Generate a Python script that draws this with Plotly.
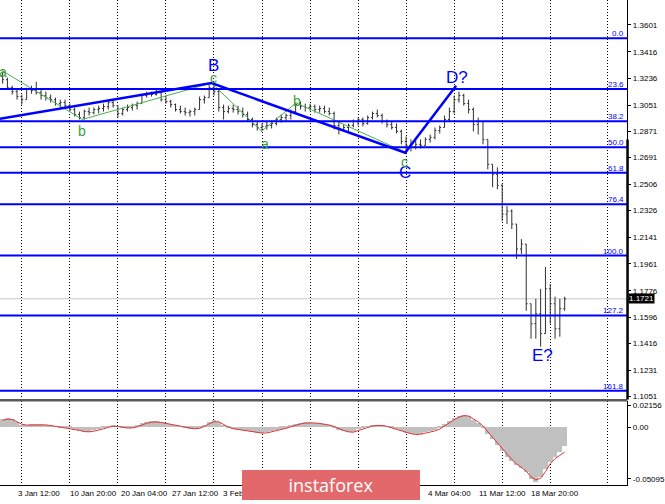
import plotly.graph_objects as go

# ---------------- data ----------------
bars = list(range(118))

opens = [1.3252,1.3225,1.3170,1.3143,1.3109,1.3088,1.3157,1.3150,1.3136,1.3116,
         1.3102,1.3088,1.3061,1.3068,1.3047,1.3020,1.2986,1.2965,1.3006,1.2999,
         1.3020,1.3027,1.3040,1.3068,1.3047,1.2993,1.3020,1.3034,1.3047,1.3061,
         1.3116,1.3129,1.3123,1.3136,1.3088,1.3075,1.3054,1.3020,1.3006,1.2999,
         1.3006,1.3020,1.3088,1.3102,1.3170,1.3143,1.3034,1.3006,1.3027,1.3020,
         1.3006,1.2986,1.2952,1.2917,1.2897,1.2904,1.2911,1.2924,1.2952,1.2965,
         1.2979,1.3006,1.3054,1.3040,1.3034,1.3040,1.3020,1.3027,1.3006,1.2993,
         1.2911,1.2883,1.2897,1.2911,1.2938,1.2952,1.2924,1.2965,1.2993,1.2979,
         1.2938,1.2917,1.2897,1.2870,1.2801,1.2774,1.2760,1.2781,1.2774,1.2815,
         1.2829,1.2876,1.2897,1.2952,1.3006,1.3088,1.3116,1.3061,1.3020,1.2917,
         1.2938,1.2815,1.2644,1.2575,1.2500,1.2302,1.2323,1.2234,1.2063,1.2097,
         1.1687,1.1550,1.1618,1.1482,1.1789,1.1687,1.1516,1.1653]
highs = [1.3280,1.3239,1.3184,1.3157,1.3123,1.3170,1.3184,1.3211,1.3157,1.3143,
         1.3123,1.3102,1.3088,1.3088,1.3061,1.3034,1.3006,1.3020,1.3034,1.3034,
         1.3047,1.3061,1.3088,1.3088,1.3047,1.3034,1.3054,1.3061,1.3075,1.3129,
         1.3143,1.3143,1.3157,1.3143,1.3116,1.3088,1.3061,1.3047,1.3034,1.3020,
         1.3034,1.3109,1.3116,1.3191,1.3211,1.3157,1.3054,1.3047,1.3054,1.3047,
         1.3034,1.3006,1.2965,1.2938,1.2924,1.2938,1.2945,1.2965,1.2986,1.2993,
         1.3020,1.3068,1.3075,1.3061,1.3061,1.3054,1.3047,1.3047,1.3034,1.3006,
         1.2938,1.2917,1.2924,1.2952,1.2965,1.2965,1.2979,1.3006,1.3020,1.2993,
         1.2952,1.2938,1.2924,1.2883,1.2835,1.2815,1.2808,1.2815,1.2829,1.2849,
         1.2897,1.2911,1.2979,1.3034,1.3116,1.3143,1.3129,1.3088,1.3034,1.2965,
         1.2938,1.2815,1.2644,1.2623,1.2507,1.2357,1.2336,1.2234,1.2131,1.2097,
         1.1687,1.1721,1.1789,1.1940,1.1823,1.1735,1.1721,1.1735]
lows = [1.3198,1.3157,1.3123,1.3088,1.3054,1.3088,1.3129,1.3123,1.3088,1.3081,
        1.3068,1.3047,1.3034,1.3034,1.3006,1.2972,1.2952,1.2952,1.2979,1.2986,
        1.2993,1.3006,1.3020,1.3034,1.2965,1.2979,1.3006,1.3013,1.3020,1.3061,
        1.3102,1.3109,1.3116,1.3075,1.3061,1.3034,1.3006,1.2993,1.2979,1.2972,
        1.2979,1.3020,1.3061,1.3102,1.3116,1.3006,1.2952,1.2993,1.2999,1.2986,
        1.2965,1.2938,1.2897,1.2876,1.2870,1.2883,1.2890,1.2911,1.2931,1.2938,
        1.2952,1.2993,1.3020,1.3006,1.3013,1.2999,1.2999,1.2993,1.2979,1.2883,
        1.2849,1.2870,1.2870,1.2897,1.2911,1.2904,1.2917,1.2952,1.2965,1.2924,
        1.2897,1.2883,1.2856,1.2781,1.2719,1.2733,1.2746,1.2753,1.2774,1.2794,
        1.2815,1.2856,1.2897,1.2938,1.2993,1.3068,1.3047,1.2993,1.2870,1.2849,
        1.2781,1.2610,1.2487,1.2473,1.2254,1.2234,1.2200,1.1994,1.2029,1.1639,
        1.1447,1.1447,1.1393,1.1482,1.1550,1.1447,1.1461,1.1639]
closes = [1.3225,1.3170,1.3143,1.3109,1.3088,1.3157,1.3150,1.3136,1.3116,1.3102,
          1.3088,1.3061,1.3068,1.3047,1.3020,1.2986,1.2965,1.3006,1.2999,1.3020,
          1.3027,1.3040,1.3068,1.3047,1.2993,1.3020,1.3034,1.3047,1.3061,1.3116,
          1.3129,1.3123,1.3136,1.3088,1.3075,1.3054,1.3020,1.3006,1.2999,1.3006,
          1.3020,1.3088,1.3102,1.3170,1.3143,1.3034,1.3006,1.3027,1.3020,1.3006,
          1.2986,1.2952,1.2917,1.2897,1.2904,1.2911,1.2924,1.2952,1.2965,1.2979,
          1.3006,1.3054,1.3040,1.3034,1.3040,1.3020,1.3027,1.3006,1.2993,1.2911,
          1.2883,1.2897,1.2911,1.2938,1.2952,1.2924,1.2965,1.2993,1.2979,1.2938,
          1.2917,1.2897,1.2870,1.2801,1.2774,1.2760,1.2781,1.2774,1.2815,1.2829,
          1.2876,1.2897,1.2952,1.3006,1.3088,1.3116,1.3061,1.3020,1.2917,1.2938,
          1.2815,1.2644,1.2575,1.2500,1.2302,1.2323,1.2234,1.2063,1.2097,1.1687,
          1.1550,1.1618,1.1482,1.1789,1.1687,1.1516,1.1653,1.1721]

macd = [0.0075,0.0088,0.0080,0.0045,0.0010,0.0018,0.0026,0.0030,0.0028,0.0022,
        0.0012,0.0004,-0.0004,-0.0009,-0.0013,-0.0025,-0.0040,-0.0050,-0.0046,-0.0034,
        -0.0022,-0.0008,0.0008,0.0016,0.0004,-0.0008,-0.0010,-0.0004,0.0012,0.0036,
        0.0050,0.0056,0.0054,0.0044,0.0036,0.0030,0.0018,0.0004,-0.0008,-0.0016,
        -0.0018,-0.0006,0.0020,0.0050,0.0066,0.0050,0.0010,-0.0012,-0.0020,-0.0026,
        -0.0032,-0.0040,-0.0050,-0.0058,-0.0060,-0.0054,-0.0040,-0.0030,-0.0016,-0.0002,
        0.0014,0.0030,0.0040,0.0046,0.0046,0.0042,0.0036,0.0028,0.0020,-0.0004,
        -0.0026,-0.0042,-0.0052,-0.0048,-0.0020,-0.0008,0.0006,0.0018,0.0022,0.0016,
        0.0004,-0.0010,-0.0022,-0.0040,-0.0058,-0.0070,-0.0074,-0.0066,-0.0054,-0.0044,
        -0.0030,-0.0008,0.0030,0.0060,0.0088,0.0112,0.0120,0.0106,0.0070,0.0040,
        -0.0010,-0.0070,-0.0120,-0.0175,-0.0240,-0.0300,-0.0340,-0.0380,-0.0410,-0.0450,
        -0.0520,-0.0545,-0.0500,-0.0420,-0.0345,-0.0300,-0.0250,-0.0190]
signal = [0.0070,0.0080,0.0078,0.0058,0.0030,0.0022,0.0024,0.0027,0.0027,0.0024,
          0.0017,0.0009,0.0002,-0.0005,-0.0010,-0.0018,-0.0030,-0.0042,-0.0045,-0.0038,
          -0.0028,-0.0015,0.0000,0.0010,0.0008,-0.0002,-0.0008,-0.0006,0.0004,0.0022,
          0.0040,0.0050,0.0053,0.0048,0.0040,0.0033,0.0024,0.0012,0.0000,-0.0010,
          -0.0015,-0.0010,0.0008,0.0035,0.0055,0.0055,0.0028,0.0002,-0.0014,-0.0022,
          -0.0028,-0.0035,-0.0044,-0.0052,-0.0057,-0.0056,-0.0046,-0.0036,-0.0024,-0.0010,
          0.0005,0.0020,0.0033,0.0042,0.0045,0.0043,0.0038,0.0031,0.0023,0.0008,
          -0.0014,-0.0032,-0.0045,-0.0049,-0.0032,-0.0016,-0.0002,0.0012,0.0019,0.0018,
          0.0009,-0.0004,-0.0016,-0.0031,-0.0049,-0.0063,-0.0071,-0.0069,-0.0059,-0.0048,
          -0.0036,-0.0018,0.0015,0.0046,0.0075,0.0100,0.0115,0.0112,0.0086,0.0054,
          0.0012,-0.0045,-0.0098,-0.0150,-0.0210,-0.0270,-0.0320,-0.0362,-0.0398,-0.0432,
          -0.0490,-0.0520,-0.0505,-0.0440,-0.0360,-0.0310,-0.0278,-0.0245]

fib_names = ["0.0", "23.6", "38.2", "50.0", "61.8", "76.4", "100.0", "127.2", "161.8"]
fib_prices = [1.3510, 1.3161, 1.2940, 1.2762, 1.2587, 1.2370, 1.2018, 1.1607, 1.1090]

wave_x = [-0.55, 43.5, 83.8, 94.4]
wave_y = [1.2956, 1.3202, 1.2724, 1.3184]
sub_x = [-0.2, 16.6, 43.5, 53.9, 61.1, 83.75]
sub_y = [1.3289, 1.2952, 1.3202, 1.2872, 1.3066, 1.2728]

wave_labels = ["B", "C", "D?", "E?"]
wave_lab_x = [43.9, 83.8, 94.6, 112.3]
wave_lab_y = [1.3325, 1.2585, 1.3239, 1.1331]
sub_labels = ["a", "b", "c", "a", "b", "c"]
sub_lab_x = [0.1, 16.6, 43.9, 54.6, 61.2, 83.75]
sub_lab_y = [1.3280, 1.2870, 1.3236, 1.2781, 1.3081, 1.2662]

price_ticks = [1.3601, 1.3416, 1.3236, 1.3051, 1.2871, 1.2691, 1.2506, 1.2326,
               1.2141, 1.1961, 1.1776, 1.1596, 1.1416, 1.1231, 1.1051]
ind_ticks = [0.02156, 0.0, -0.05095]
ind_tick_text = ["0.02156", "0.00", "-0.05095"]

time_labels = ["27 Dec 04:00", "3 Jan 12:00", "10 Jan 20:00", "20 Jan 04:00", "27 Jan 12:00",
               "3 Feb", "4 Mar 04:00", "11 Mar 12:00", "18 Mar 20:00"]
time_label_bars = [-7.8, 2.86, 13.52, 24.19, 34.85, 45.51, 88.15, 98.81, 109.48]
grid_bars = [4, 14, 24, 34, 44, 54, 64, 74, 84, 94, 104, 114, 126]

# ---------------- styling ----------------
W, H = 665, 504
XR = 632 / W
BLUE = "#0000FF"
GREEN = "#3a9f3a"
FONT = "Liberation Sans, Arial, sans-serif"

fig = go.Figure()

fig.add_trace(go.Ohlc(x=bars, open=opens, high=highs, low=lows, close=closes,
                      increasing=dict(line=dict(color="#303030", width=1)),
                      decreasing=dict(line=dict(color="#303030", width=1)),
                      tickwidth=0.3, xaxis="x", yaxis="y", hoverinfo="skip"))

fig.add_trace(go.Scatter(x=sub_x, y=sub_y, mode="lines",
                         line=dict(color="#4caf4c", width=1), xaxis="x", yaxis="y",
                         hoverinfo="skip"))
fig.add_trace(go.Scatter(x=wave_x, y=wave_y, mode="lines",
                         line=dict(color=BLUE, width=2.5), xaxis="x", yaxis="y",
                         hoverinfo="skip"))

fig.add_trace(go.Bar(x=bars, y=macd, width=1.0, marker=dict(color="#c0c0c0", line=dict(width=0)),
                     xaxis="x2", yaxis="y2", hoverinfo="skip"))
fig.add_trace(go.Scatter(x=bars, y=signal, mode="lines", line=dict(color="#e03434", width=1),
                         xaxis="x2", yaxis="y2", hoverinfo="skip"))

shapes = []
for p in fib_prices:
    shapes.append(dict(type="line", xref="paper", yref="y", x0=0, x1=XR, y0=p, y1=p,
                       line=dict(color=BLUE, width=2), layer="above"))
# current price line
shapes.append(dict(type="line", xref="paper", yref="y", x0=0, x1=XR, y0=closes[-1], y1=closes[-1],
                   line=dict(color="#c8c8c8", width=1), layer="below"))
# separator between panels
shapes.append(dict(type="line", xref="paper", yref="paper", x0=0, x1=XR,
                   y0=1 - 401.8 / H, y1=1 - 401.8 / H, line=dict(color="#5a5a5a", width=2.5)))
# thick part of price-scale border
shapes.append(dict(type="line", xref="paper", yref="paper", x0=632.3 / W, x1=632.3 / W,
                   y0=1 - 401 / H, y1=1 - 140 / H, line=dict(color="#000", width=2.5)))

annotations = []
for n, p in zip(fib_names, fib_prices):
    annotations.append(dict(x=XR - 1 / W, y=p, xref="paper", yref="y", text=n, showarrow=False,
                            xanchor="right", yanchor="bottom", yshift=-2,
                            font=dict(family=FONT, size=8, color=BLUE)))
for t, xx, yy in zip(wave_labels, wave_lab_x, wave_lab_y):
    annotations.append(dict(x=xx, y=yy, xref="x", yref="y", text=t, showarrow=False,
                            font=dict(family=FONT, size=17, color=BLUE)))
for t, xx, yy in zip(sub_labels, sub_lab_x, sub_lab_y):
    annotations.append(dict(x=xx, y=yy, xref="x", yref="y", text=t, showarrow=False,
                            font=dict(family=FONT, size=14, color=GREEN)))
# top partially visible price label
annotations.append(dict(x=XR, y=1.3781, xref="paper", yref="y", text="1.3781", showarrow=False,
                        xanchor="left", xshift=3, font=dict(family=FONT, size=8, color="#000")))
# current price badge
annotations.append(dict(x=XR, y=closes[-1], xref="paper", yref="y", text="1.1721", showarrow=False,
                        xanchor="left", xshift=1, bgcolor="#000", borderpad=0,
                        font=dict(family=FONT, size=8, color="#fff")))
for t, b in zip(time_labels, time_label_bars):
    annotations.append(dict(x=b, y=1 - 495 / H, xref="x2", yref="paper", text=t, showarrow=False,
                            xanchor="left", yanchor="middle",
                            font=dict(family=FONT, size=8, color="#000")))
# logo
annotations.append(dict(x=334 / W, y=1 - 487 / H, xref="paper", yref="paper", text="instaforex",
                        showarrow=False, xanchor="center", yanchor="middle", width=178, height=30,
                        bgcolor="#e2686c", borderpad=0, borderwidth=0,
                        font=dict(family="Open Sans, sans-serif", size=18, color="#ffffff")))

xcommon = dict(range=[-0.545, 130.03], tickvals=grid_bars, showticklabels=False, ticks="",
               showgrid=True, gridcolor="#000000", gridwidth=1, griddash="1px,2px",
               zeroline=False, domain=[0, XR])

fig.update_layout(
    width=W, height=H, autosize=False,
    margin=dict(l=0, r=0, t=0, b=0),
    paper_bgcolor="#ffffff", plot_bgcolor="#ffffff",
    showlegend=False, bargap=0,
    xaxis=dict(**xcommon, anchor="y", rangeslider=dict(visible=False), showline=False),
    xaxis2=dict(**xcommon, anchor="y2", matches="x", showline=True, linecolor="#000", linewidth=1),
    yaxis=dict(domain=[1 - 401 / H, 1], range=[1.10304, 1.3772], side="right", anchor="x",
               tickvals=price_ticks, ticktext=[f"{v:.4f}" for v in price_ticks],
               ticks="outside", ticklen=3, tickcolor="#000", showgrid=False, zeroline=False,
               showline=True, linecolor="#000", linewidth=1,
               tickfont=dict(family=FONT, size=8, color="#000")),
    yaxis2=dict(domain=[1 - 487 / H, 1 - 403 / H], range=[-0.05716, 0.02562], side="right", anchor="x2",
                tickvals=ind_ticks, ticktext=ind_tick_text,
                ticks="outside", ticklen=3, tickcolor="#000", showgrid=False, zeroline=False,
                showline=True, linecolor="#000", linewidth=1,
                tickfont=dict(family=FONT, size=8, color="#000")),
    shapes=shapes, annotations=annotations,
)

fig.write_html("out.html", config={"displayModeBar": False},
               post_script="document.body.style.margin='0px';document.body.style.overflow='hidden';")
